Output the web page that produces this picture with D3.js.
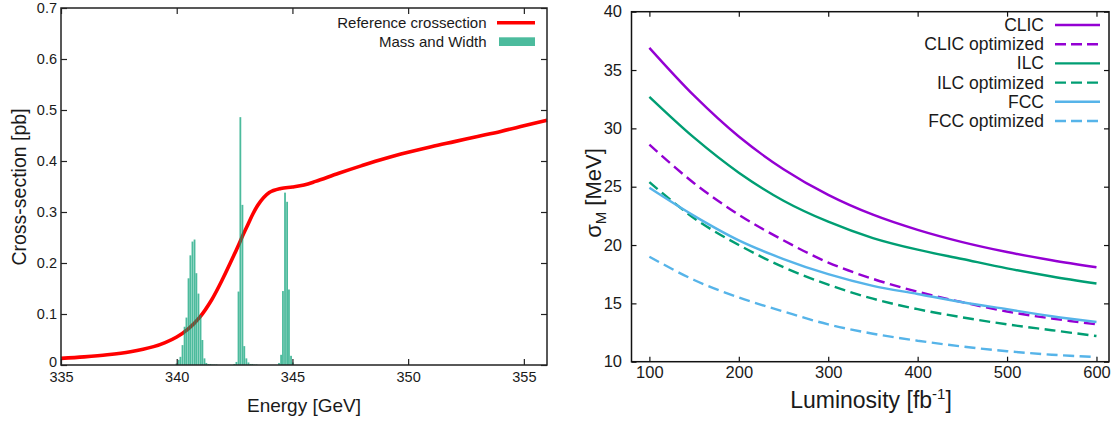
<!DOCTYPE html>
<html>
<head>
<meta charset="utf-8">
<script src="https://cdn.jsdelivr.net/npm/d3@7"></script>
<style>
    body { margin: 0; background: #fff; }
    svg text { font-family: "Liberation Sans", Arial, sans-serif; fill: #1a1a1a; }
</style>
</head>
<body>
<div id="chart"></div>
<script>

// ---- Left panel: reference cross-section + mass/width histogram ----
const energyPoints = [335, 336, 337, 338, 339, 339.5, 340, 340.5, 341, 341.5, 342, 342.5, 343, 343.5,
    344, 344.5, 345, 345.5, 346, 347, 348, 349, 350, 351, 352, 353, 354, 355, 356];
const crossSection = [0.013, 0.016, 0.020, 0.026, 0.036, 0.044, 0.055, 0.071, 0.094, 0.127, 0.170, 0.218, 0.268, 0.313,
    0.338, 0.346, 0.349, 0.353, 0.360, 0.376, 0.391, 0.405, 0.417, 0.428, 0.438, 0.448, 0.458, 0.469, 0.480];

// histogram bin centres [GeV] and heights
const binWidth = 0.0865;
const histCenters = [
    339.99, 340.08, 340.16, 340.25, 340.34, 340.42, 340.51, 340.59, 340.68, 340.77, 340.85, 340.94, 341.03, 341.11, 341.20,
    341.28, 341.37, 341.46, 341.55, 341.63, 341.72,
    342.49, 342.58, 342.67, 342.75, 342.84, 342.92, 343.01, 343.10, 343.19, 343.27, 343.36, 343.45,
    344.42, 344.51, 344.59, 344.68, 344.77, 344.85, 344.94, 345.02
];
const histHeights = [
    0.003, 0.010, 0.016, 0.039, 0.075, 0.093, 0.170, 0.215, 0.242, 0.246, 0.180, 0.140, 0.098, 0.049, 0.013,
    0.004, 0.002, 0.002, 0.001, 0.001, 0.001,
    0.002, 0.006, 0.144, 0.486, 0.314, 0.037, 0.013, 0.005, 0.002, 0.002, 0.001, 0.001,
    0.004, 0.020, 0.145, 0.338, 0.320, 0.148, 0.018, 0.005
];

const energyTicks = [335, 340, 345, 350, 355];
const xsecTicks = [0, 0.1, 0.2, 0.3, 0.4, 0.5, 0.6, 0.7];

// ---- Right panel: sigma_M vs luminosity ----
const lumiPoints = [100, 150, 200, 250, 300, 350, 400, 450, 500, 550, 600];
const clic    = [36.9, 32.8, 29.3, 26.5, 24.3, 22.6, 21.3, 20.25, 19.4, 18.7, 18.1];
const clicOpt = [28.6, 25.3, 22.6, 20.4, 18.5, 17.1, 16.0, 15.1, 14.3, 13.7, 13.2];
const ilc     = [32.7, 29.2, 26.2, 23.8, 22.0, 20.6, 19.6, 18.8, 18.0, 17.3, 16.7];
const ilcOpt  = [25.4, 22.3, 20.0, 18.1, 16.6, 15.4, 14.5, 13.8, 13.2, 12.7, 12.2];
const fcc     = [24.9, 22.5, 20.4, 18.8, 17.5, 16.5, 15.8, 15.1, 14.5, 13.9, 13.4];
const fccOpt  = [19.0, 17.0, 15.5, 14.3, 13.2, 12.4, 11.8, 11.3, 10.9, 10.6, 10.4];

const seriesNames = ["CLIC", "CLIC optimized", "ILC", "ILC optimized", "FCC", "FCC optimized"];
const seriesValues = [clic, clicOpt, ilc, ilcOpt, fcc, fccOpt];

const lumiTicks = [100, 200, 300, 400, 500, 600];
const sigmaTicks = [10, 15, 20, 25, 30, 35, 40];


class CrossSectionVis {
    constructor(svg) {
        this.svg = svg;
        this.initVis();
    }

    initVis() {
        let vis = this;

        vis.box = {left: 61, right: 547, top: 8, bottom: 365};

        vis.x = d3.scaleLinear().domain([335, 356]).range([vis.box.left, vis.box.right]);
        vis.y = d3.scaleLinear().domain([0, 0.7]).range([vis.box.bottom, vis.box.top]);

        vis.g = vis.svg.append("g").attr("class", "left-panel");

        // reference curve
        vis.line = d3.line()
            .x((d, i) => vis.x(energyPoints[i]))
            .y(d => vis.y(d))
            .curve(d3.curveCatmullRom.alpha(0.5));

        vis.g.append("path")
            .datum(crossSection)
            .attr("d", vis.line)
            .attr("fill", "none")
            .attr("stroke", "#ff0000")
            .attr("stroke-width", 3.6);

        // histogram (semi transparent, drawn over the curve)
        let bw = vis.x(335 + binWidth) - vis.x(335);
        vis.g.append("g").selectAll("rect")
            .data(histHeights)
            .enter()
            .append("rect")
            .attr("x", (d, i) => vis.x(histCenters[i] - binWidth / 2) + 0.1)
            .attr("width", bw - 0.2)
            .attr("y", d => vis.y(d))
            .attr("height", d => vis.y(0) - vis.y(d))
            .attr("fill", "#009e73")
            .attr("fill-opacity", 0.7);

        vis.drawAxes();
        vis.drawLegend();
    }

    drawAxes() {
        let vis = this;
        let fmt = d => d === 0 ? "0" : d.toFixed(1);

        let bottom = vis.g.append("g")
            .attr("transform", "translate(0," + vis.box.bottom + ")")
            .call(d3.axisBottom(vis.x).tickValues(energyTicks).tickSize(-6).tickPadding(7));
        let top = vis.g.append("g")
            .attr("transform", "translate(0," + vis.box.top + ")")
            .call(d3.axisTop(vis.x).tickValues(energyTicks).tickSize(-6).tickFormat(""));
        let left = vis.g.append("g")
            .attr("transform", "translate(" + vis.box.left + ",0)")
            .call(d3.axisLeft(vis.y).tickValues(xsecTicks).tickSize(-6).tickPadding(4).tickFormat(fmt));
        let right = vis.g.append("g")
            .attr("transform", "translate(" + vis.box.right + ",0)")
            .call(d3.axisRight(vis.y).tickValues(xsecTicks).tickSize(-6).tickFormat(""));

        [bottom, top, left, right].forEach(a => {
            a.select(".domain").remove();
            a.selectAll("line").attr("stroke", "#222").attr("stroke-width", 1.2);
            a.selectAll("text").attr("font-size", 14.5).attr("fill", "#1a1a1a");
        });

        // the "0" sits just above the "335" label
        left.selectAll(".tick text").filter(d => d === 0).attr("dy", "0.1em");

        vis.g.append("rect")
            .attr("x", vis.box.left)
            .attr("y", vis.box.top)
            .attr("width", vis.box.right - vis.box.left)
            .attr("height", vis.box.bottom - vis.box.top)
            .attr("fill", "none")
            .attr("stroke", "#222")
            .attr("stroke-width", 1.5);

        vis.g.append("text")
            .attr("x", 304)
            .attr("y", 412)
            .attr("text-anchor", "middle")
            .attr("font-size", 19)
            .text("Energy [GeV]");

        vis.g.append("text")
            .attr("transform", "translate(26,187) rotate(-90)")
            .attr("text-anchor", "middle")
            .attr("font-size", 19.5)
            .text("Cross-section [pb]");
    }

    drawLegend() {
        let vis = this;
        let lg = vis.g.append("g").attr("class", "legend");

        lg.append("text").attr("x", 486.5).attr("y", 28).attr("text-anchor", "end")
            .attr("font-size", 15).text("Reference crossection");
        lg.append("line").attr("x1", 497).attr("x2", 535).attr("y1", 22.7).attr("y2", 22.7)
            .attr("stroke", "#ff0000").attr("stroke-width", 3.6);

        lg.append("text").attr("x", 486.5).attr("y", 46.5).attr("text-anchor", "end")
            .attr("font-size", 15).text("Mass and Width");
        lg.append("rect").attr("x", 499).attr("y", 37.3).attr("width", 36).attr("height", 8.7)
            .attr("fill", "#009e73").attr("fill-opacity", 0.7);
    }
}


class ResolutionVis {
    constructor(svg) {
        this.svg = svg;
        this.initVis();
    }

    initVis() {
        let vis = this;

        vis.box = {left: 631.5, right: 1109, top: 11.7, bottom: 361.7};
        vis.colors = ["#9400d3", "#9400d3", "#009e73", "#009e73", "#56b4e9", "#56b4e9"];
        vis.dashed = [false, true, false, true, false, true];

        vis.x = d3.scaleLinear().domain([80, 614]).range([vis.box.left, vis.box.right]);
        vis.y = d3.scaleLinear().domain([10, 40]).range([vis.box.bottom, vis.box.top]);

        vis.g = vis.svg.append("g").attr("class", "right-panel");

        vis.line = d3.line()
            .x((d, i) => vis.x(lumiPoints[i]))
            .y(d => vis.y(d))
            .curve(d3.curveCatmullRom.alpha(0.5));

        vis.g.append("g").selectAll("path")
            .data(seriesValues)
            .enter()
            .append("path")
            .attr("d", vis.line)
            .attr("fill", "none")
            .attr("stroke", (d, i) => vis.colors[i])
            .attr("stroke-width", 2.4)
            .attr("stroke-dasharray", (d, i) => vis.dashed[i] ? "11,5.5" : null);

        vis.drawAxes();
        vis.drawLegend();
    }

    drawAxes() {
        let vis = this;

        let bottom = vis.g.append("g")
            .attr("transform", "translate(0," + vis.box.bottom + ")")
            .call(d3.axisBottom(vis.x).tickValues(lumiTicks).tickSize(-5).tickPadding(5));
        let top = vis.g.append("g")
            .attr("transform", "translate(0," + vis.box.top + ")")
            .call(d3.axisTop(vis.x).tickValues(lumiTicks).tickSize(-5).tickFormat(""));
        let left = vis.g.append("g")
            .attr("transform", "translate(" + vis.box.left + ",0)")
            .call(d3.axisLeft(vis.y).tickValues(sigmaTicks).tickSize(-5).tickPadding(9.5));
        let right = vis.g.append("g")
            .attr("transform", "translate(" + vis.box.right + ",0)")
            .call(d3.axisRight(vis.y).tickValues(sigmaTicks).tickSize(-5).tickFormat(""));

        [bottom, top, left, right].forEach(a => {
            a.select(".domain").remove();
            a.selectAll("line").attr("stroke", "#111").attr("stroke-width", 1.2);
            a.selectAll("text").attr("font-size", 16.5).attr("fill", "#1a1a1a");
        });

        vis.g.append("rect")
            .attr("x", vis.box.left)
            .attr("y", vis.box.top)
            .attr("width", vis.box.right - vis.box.left)
            .attr("height", vis.box.bottom - vis.box.top)
            .attr("fill", "none")
            .attr("stroke", "#111")
            .attr("stroke-width", 1.5);

        let xt = vis.g.append("text")
            .attr("x", 871)
            .attr("y", 408)
            .attr("text-anchor", "middle")
            .attr("font-size", 23);
        xt.append("tspan").text("Luminosity [fb");
        xt.append("tspan").attr("font-size", 15).attr("dy", -9).text("-1");
        xt.append("tspan").attr("dy", 9).text("]");

        let yt = vis.g.append("text")
            .attr("transform", "translate(601,193) rotate(-90)")
            .attr("text-anchor", "middle")
            .attr("font-size", 22);
        yt.append("tspan").text("σ");
        yt.append("tspan").attr("font-size", 15).attr("dy", 5).text("M");
        yt.append("tspan").attr("dy", -5).text(" [MeV]");
    }

    drawLegend() {
        let vis = this;
        let rowY = d3.scaleLinear().domain([0, 5]).range([25, 121]);

        let rows = vis.g.append("g").attr("class", "legend")
            .selectAll("g")
            .data(seriesNames)
            .enter()
            .append("g")
            .attr("transform", (d, i) => "translate(0," + rowY(i) + ")");

        rows.append("text")
            .attr("x", 1044)
            .attr("y", 6)
            .attr("text-anchor", "end")
            .attr("font-size", 17.5)
            .text(d => d);

        rows.append("line")
            .attr("x1", 1055)
            .attr("x2", 1100)
            .attr("stroke", (d, i) => vis.colors[i])
            .attr("stroke-width", 2.4)
            .attr("stroke-dasharray", (d, i) => vis.dashed[i] ? "11,5" : null);
    }
}


let svg = d3.select("#chart").append("svg")
    .attr("width", 1118)
    .attr("height", 424);

new CrossSectionVis(svg);
new ResolutionVis(svg);

</script>
</body>
</html>
